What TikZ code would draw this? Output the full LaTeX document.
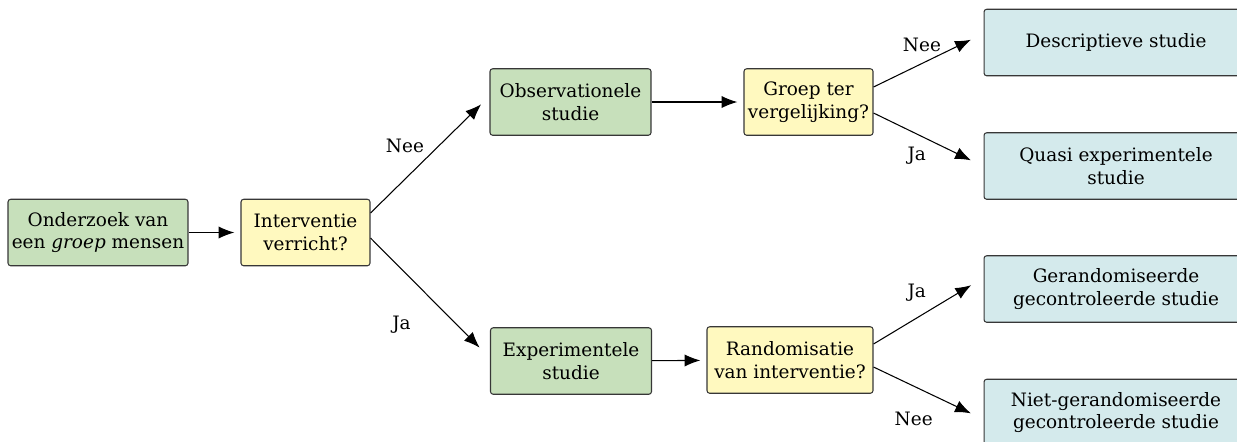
\documentclass[tikz,border=0pt]{standalone}
\usepackage{fontspec}
\setmainfont{DejaVu Serif}
\usetikzlibrary{arrows.meta,positioning}
\definecolor{boxgreen}{RGB}{199,224,187}
\definecolor{boxyellow}{RGB}{255,249,191}
\definecolor{boxblue}{RGB}{212,234,236}
\definecolor{boxline}{RGB}{55,55,55}

\begin{document}
\begin{tikzpicture}[x=0.02cm,y=-0.02cm,>={Latex[length=9pt,width=7pt]},font=\fontsize{10.5}{13}\selectfont,
    every node/.style={align=center},
    box/.style={draw=boxline,line width=0.6pt,rounded corners=1.5pt,minimum height=1.33cm,inner sep=2pt},
    studybox/.style={box,fill=boxgreen,minimum width=3.22cm},
    askbox/.style={box,fill=boxyellow},
    endbox/.style={box,fill=boxblue,minimum width=5.28cm},
    lbl/.style={inner sep=2pt},
    flow/.style={->,line width=0.6pt,shorten >=3.5pt}]
    \useasboundingbox (0,0) rectangle (1237,441);
    \node[box,fill=boxgreen,minimum width=3.6cm] (grp) at (98,232.5) {Onderzoek van\\een \textit{groep} mensen};
    \node[askbox,minimum width=2.58cm] (int) at (305.5,232.5) {Interventie\\verricht?};
    \node[studybox] (obs) at (570.5,102) {Observationele\\studie};
    \node[askbox,minimum width=2.58cm] (cmp) at (808.5,102) {Groep ter\\vergelijking?};
    \node[studybox] (exp) at (571,361) {Experimentele\\studie};
    \node[askbox,minimum width=3.32cm] (rnd) at (790,360) {Randomisatie\\van interventie?};
    \node[endbox] (desc) at (1116,42.5) {Descriptieve studie};
    \node[endbox] (quasi) at (1116,166) {Quasi experimentele\\studie};
    \node[endbox] (rct) at (1116,289) {Gerandomiseerde\\gecontroleerde studie};
    \node[endbox] (nrct) at (1116,412.5) {Niet-gerandomiseerde\\gecontroleerde studie};
    \draw[flow] (grp) -- (int);
    \draw[flow] ([yshift=0.39cm]int.east) -- node[lbl,above left] {Nee} ([xshift=-0.08cm,yshift=0.04cm]obs.west);
    \draw[flow] ([yshift=-0.11cm]int.east) -- node[lbl,below left=0.34cm and 0.25cm] {Ja} ([xshift=-0.12cm,yshift=0.18cm]exp.west);
    \draw[flow] (obs) -- (cmp);
    \draw[flow] (exp) -- (rnd);
    \draw[flow] ([yshift=0.3cm]cmp.east) -- node[lbl,pos=.47,above=0.15cm] {Nee} ([xshift=-0.14cm,yshift=0.11cm]desc.west);
    \draw[flow] ([yshift=-0.22cm]cmp.east) -- node[lbl,pos=.42,below=0.18cm] {Ja} ([xshift=-0.14cm,yshift=0.06cm]quasi.west);
    \draw[flow] ([yshift=0.32cm]rnd.east) -- node[lbl,pos=.42,above=0.26cm] {Ja} ([xshift=-0.14cm,yshift=0.14cm]rct.west);
    \draw[flow] ([yshift=-0.14cm]rnd.east) -- node[lbl,pos=.39,below=0.44cm] {Nee} ([xshift=-0.14cm,yshift=-0.07cm]nrct.west);
\end{tikzpicture}
\end{document}
